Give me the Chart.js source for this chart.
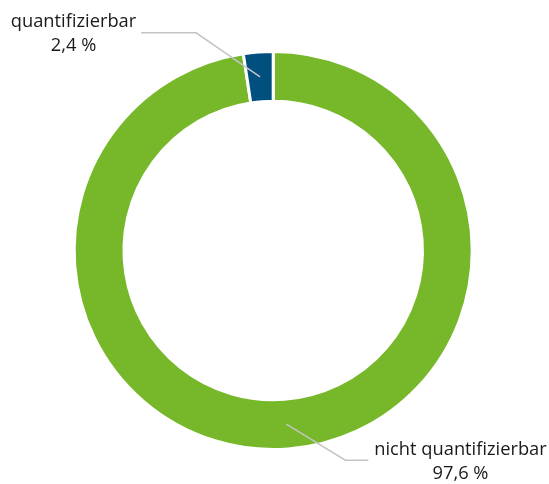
<!DOCTYPE html>
<html>
<head>
<meta charset="utf-8">
<script src="https://cdn.jsdelivr.net/npm/chart.js@4.4.0/dist/chart.umd.min.js"></script>
<style>
html,body{margin:0;padding:0;background:#fff;}
#wrap{width:549px;height:484px;position:relative;}
</style>
</head>
<body>
<div id="wrap"><canvas id="c" width="549" height="484"></canvas></div>
<script>
const categories = ["nicht quantifizierbar", "quantifizierbar"];
const values = [97.6, 2.4];
const valueLabels = ["97,6 %", "2,4 %"];
const colors = ["#77b82a", "#00507f"];

// label layout: elbow offset from anchor, horizontal run, text anchor
const labelLayout = [
  {dx: 59, dy: 36, run: 23, tx: 460.5, ty: 450},
  {dx: -64, dy: -44, run: -55, tx: 73.5, ty: 22}
];

const leaderPlugin = {
  id: 'leaders',
  afterDatasetsDraw(chart) {
    const ctx = chart.ctx;
    const meta = chart.getDatasetMeta(0);
    ctx.save();
    meta.data.forEach((arc, i) => {
      const p = arc.getProps(['x','y','startAngle','endAngle','innerRadius','outerRadius'], true);
      const mid = (p.startAngle + p.endAngle) / 2;
      const r = (p.innerRadius + p.outerRadius) / 2;
      const ax = p.x + Math.cos(mid) * r;
      const ay = p.y + Math.sin(mid) * r;
      const L = labelLayout[i];
      const ex = ax + L.dx, ey = ay + L.dy;
      ctx.beginPath();
      ctx.strokeStyle = '#c4c4c4';
      ctx.lineWidth = 1.5;
      ctx.moveTo(ax, ay);
      ctx.lineTo(ex, ey);
      ctx.lineTo(ex + L.run, ey);
      ctx.stroke();
      ctx.fillStyle = '#1a1a1a';
      ctx.font = '18.3px "Open Sans", sans-serif';
      ctx.textAlign = 'center';
      ctx.textBaseline = 'middle';
      ctx.fillText(categories[i], L.tx, L.ty);
      ctx.fillText(valueLabels[i], L.tx, L.ty + 24);
    });
    ctx.restore();
  }
};

new Chart(document.getElementById('c'), {
  type: 'doughnut',
  data: {
    labels: categories,
    datasets: [{
      data: values,
      backgroundColor: colors,
      borderColor: '#ffffff',
      borderWidth: 3,
      hoverOffset: 0
    }]
  },
  options: {
    responsive: false,
    animation: false,
    radius: 199,
    cutout: '75%',
    layout: {padding: {left: 0, right: 2.6, top: 17, bottom: 0}},
    plugins: {legend: {display: false}, tooltip: {enabled: false}}
  },
  plugins: [leaderPlugin]
});
</script>
</body>
</html>
